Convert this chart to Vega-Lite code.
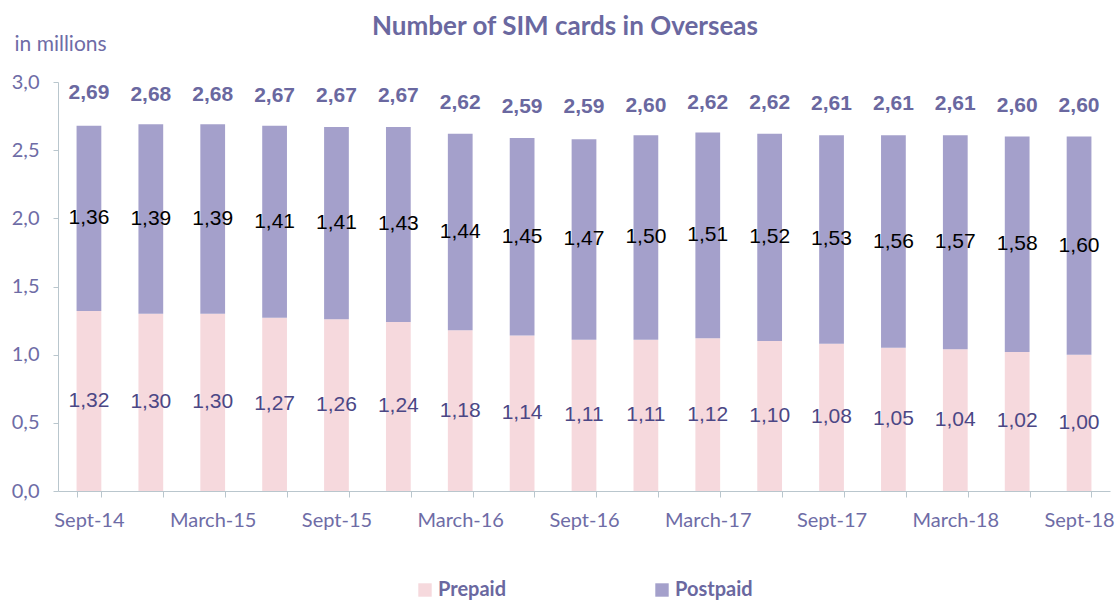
{
  "$schema": "https://vega.github.io/schema/vega-lite/v6.json",
  "autosize": "none",
  "width": 1052,
  "height": 409,
  "padding": {"left": 58, "top": 82, "right": 7, "bottom": 110},
  "config": {
    "locale": {"number": {"decimal": ",", "thousands": ".", "grouping": [3], "currency": ["", " €"]}},
    "view": {"stroke": null},
    "axis": {"labelFont": "Lato", "labelColor": "#6e6ca6", "domainColor": "#b9c6cd", "tickColor": "#b9c6cd", "grid": false}
  },
  "title": {
    "text": "Number of SIM cards in Overseas",
    "font": "Lato",
    "fontSize": 26,
    "fontWeight": "bold",
    "color": "#6a68a0",
    "anchor": "middle",
    "baseline": "alphabetic",
    "dx": -19,
    "offset": -28
  },
  "datasets": {
    "parts": [
      {"period": "Sept-14", "type": "Prepaid", "value": 1.32}, {"period": "Sept-14", "type": "Postpaid", "value": 1.36},
      {"period": "Dec-14", "type": "Prepaid", "value": 1.30}, {"period": "Dec-14", "type": "Postpaid", "value": 1.39},
      {"period": "March-15", "type": "Prepaid", "value": 1.30}, {"period": "March-15", "type": "Postpaid", "value": 1.39},
      {"period": "June-15", "type": "Prepaid", "value": 1.27}, {"period": "June-15", "type": "Postpaid", "value": 1.41},
      {"period": "Sept-15", "type": "Prepaid", "value": 1.26}, {"period": "Sept-15", "type": "Postpaid", "value": 1.41},
      {"period": "Dec-15", "type": "Prepaid", "value": 1.24}, {"period": "Dec-15", "type": "Postpaid", "value": 1.43},
      {"period": "March-16", "type": "Prepaid", "value": 1.18}, {"period": "March-16", "type": "Postpaid", "value": 1.44},
      {"period": "June-16", "type": "Prepaid", "value": 1.14}, {"period": "June-16", "type": "Postpaid", "value": 1.45},
      {"period": "Sept-16", "type": "Prepaid", "value": 1.11}, {"period": "Sept-16", "type": "Postpaid", "value": 1.47},
      {"period": "Dec-16", "type": "Prepaid", "value": 1.11}, {"period": "Dec-16", "type": "Postpaid", "value": 1.50},
      {"period": "March-17", "type": "Prepaid", "value": 1.12}, {"period": "March-17", "type": "Postpaid", "value": 1.51},
      {"period": "June-17", "type": "Prepaid", "value": 1.10}, {"period": "June-17", "type": "Postpaid", "value": 1.52},
      {"period": "Sept-17", "type": "Prepaid", "value": 1.08}, {"period": "Sept-17", "type": "Postpaid", "value": 1.53},
      {"period": "Dec-17", "type": "Prepaid", "value": 1.05}, {"period": "Dec-17", "type": "Postpaid", "value": 1.56},
      {"period": "March-18", "type": "Prepaid", "value": 1.04}, {"period": "March-18", "type": "Postpaid", "value": 1.57},
      {"period": "June-18", "type": "Prepaid", "value": 1.02}, {"period": "June-18", "type": "Postpaid", "value": 1.58},
      {"period": "Sept-18", "type": "Prepaid", "value": 1.00}, {"period": "Sept-18", "type": "Postpaid", "value": 1.60}
    ],
    "totals": [
      {"period": "Sept-14", "total": 2.69}, {"period": "Dec-14", "total": 2.68}, {"period": "March-15", "total": 2.68},
      {"period": "June-15", "total": 2.67}, {"period": "Sept-15", "total": 2.67}, {"period": "Dec-15", "total": 2.67},
      {"period": "March-16", "total": 2.62}, {"period": "June-16", "total": 2.59}, {"period": "Sept-16", "total": 2.59},
      {"period": "Dec-16", "total": 2.60}, {"period": "March-17", "total": 2.62}, {"period": "June-17", "total": 2.62},
      {"period": "Sept-17", "total": 2.61}, {"period": "Dec-17", "total": 2.61}, {"period": "March-18", "total": 2.61},
      {"period": "June-18", "total": 2.60}, {"period": "Sept-18", "total": 2.60}
    ]
  },
  "encoding": {
    "x": {
      "field": "period",
      "type": "nominal",
      "sort": ["Sept-14","Dec-14","March-15","June-15","Sept-15","Dec-15","March-16","June-16","Sept-16","Dec-16","March-17","June-17","Sept-17","Dec-17","March-18","June-18","Sept-18"],
      "scale": {"paddingInner": 0.6, "paddingOuter": 0.3},
      "axis": {
        "title": null,
        "labelAngle": 0,
        "labelFontSize": 20,
        "labelPadding": 13,
        "tickBand": "extent",
        "tickSize": 6,
        "labelExpr": "test(/^(Sept|March)/, datum.label) ? datum.label : ''"
      }
    }
  },
  "layer": [
    {
      "data": {"name": "parts"},
      "mark": {"type": "bar"},
      "encoding": {
        "y": {
          "field": "value",
          "type": "quantitative",
          "stack": "zero",
          "scale": {"domain": [0, 3]},
          "axis": {
            "values": [0, 0.5, 1, 1.5, 2, 2.5, 3],
            "format": ".1f",
            "labelFontSize": 20,
            "labelPadding": 14,
            "tickSize": 5,
            "title": "in millions",
            "titleAngle": 0,
            "titleAlign": "left",
            "titleBaseline": "alphabetic",
            "titleX": -44,
            "titleY": -32,
            "titleFont": "Lato",
            "titleFontSize": 21,
            "titleFontWeight": "normal",
            "titleColor": "#6e6ca6"
          }
        },
        "color": {
          "field": "type",
          "type": "nominal",
          "scale": {"domain": ["Prepaid", "Postpaid"], "range": ["#f6d9dd", "#a4a0cb"]},
          "legend": {
            "title": null,
            "orient": "none",
            "direction": "horizontal",
            "legendX": 357,
            "legendY": 498,
            "symbolType": "square",
            "symbolSize": 180,
            "symbolStrokeWidth": 0,
            "columnPadding": 145,
            "labelFont": "Lato",
            "labelFontSize": 20,
            "labelFontWeight": "bold",
            "labelColor": "#6a68a0",
            "labelOffset": 3
          }
        },
        "order": {"field": "type", "sort": "descending"}
      }
    },
    {
      "data": {"name": "parts"},
      "transform": [
        {"stack": "value", "groupby": ["period"], "as": ["v0", "v1"], "sort": [{"field": "type", "order": "descending"}]},
        {"calculate": "(datum.v0 + datum.v1) / 2", "as": "mid"}
      ],
      "mark": {"type": "text", "font": "Liberation Sans", "fontSize": 21, "baseline": "middle"},
      "encoding": {
        "y": {"field": "mid", "type": "quantitative"},
        "text": {"field": "value", "type": "quantitative", "format": ".2f"},
        "color": {"condition": {"test": "datum.type === 'Postpaid'", "value": "#000000"}, "value": "#4b4785"}
      }
    },
    {
      "data": {"name": "totals"},
      "mark": {"type": "text", "font": "Liberation Sans", "fontSize": 21, "fontWeight": "bold", "baseline": "middle", "dy": -31, "color": "#6a68a0"},
      "encoding": {
        "y": {"field": "total", "type": "quantitative"},
        "text": {"field": "total", "type": "quantitative", "format": ".2f"}
      }
    }
  ]
}
